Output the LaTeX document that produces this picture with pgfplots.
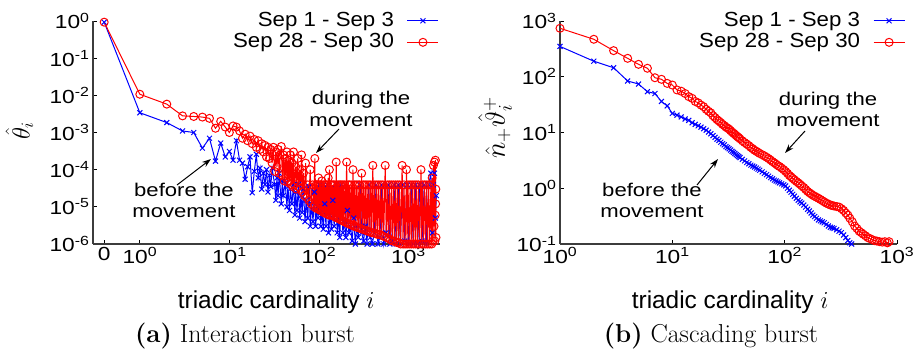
\RequirePackage{fix-cm}
\documentclass[border=0pt]{standalone}
\usepackage{fontspec}
\setsansfont{Liberation Sans}
\newfontfamily\gpt[FakeStretch=1.2]{Liberation Sans}
\newfontfamily\gpl[FakeStretch=1.09]{Liberation Sans}
\usepackage{pgfplots}
\pgfplotsset{compat=1.18}
\usetikzlibrary{arrows.meta}
\newcommand{\E}[1]{10\textsuperscript{#1}}
\definecolor{axgray}{RGB}{60,60,60}
\pgfplotsset{
  every axis/.append style={
    scale only axis,
    axis lines*=left,
    tick pos=left,
    axis line style={-, axgray, line width=1.4bp},
    tick style={black, line width=0.8bp},
    major tick length=4bp,
    tick align=inside,
    xminorticks=false, yminorticks=false,
    tick label style={font=\fontsize{19}{22}\selectfont\gpt},
    clip=false,
    legend cell align=right,
    legend plot pos=right,
  },
  every axis legend/.append style={draw=none, fill=none, font=\fontsize{20.5}{22}\selectfont\gpl,
      anchor=north east, inner sep=0pt, outer sep=0pt,
      nodes={inner sep=1bp, text height=15bp, text depth=4.5bp},
      column sep=12bp, row sep=0pt},
  legend image code/.code={\draw[mark repeat=2,mark phase=2] plot coordinates {(0bp,0bp)(15.5bp,0bp)(31bp,0bp)};},
  every axis x label/.style={font=\fontsize{24.5}{28}\selectfont\sffamily, anchor=base},
  every axis y label/.style={font=\fontsize{25}{28}\selectfont, rotate=90, anchor=center},
}
\tikzset{
  bl/.style={color=blue, line width=1bp, mark=x, mark size=3.5bp, mark options={line width=1bp}},
  rd/.style={color=red, line width=1bp, mark=o, mark size=4bp, mark options={line width=1bp}},
}
\begin{document}
\begin{tikzpicture}
\path[use as bounding box] (0bp,0bp) rectangle (918bp,354bp);
% ---------------- (a) ----------------
\begin{axis}[xmode=log, ymode=log, at={(93bp,110bp)}, anchor=south west,
  width=347bp, height=223bp,
  xmin=0.3, xmax=2250, ymin=1e-6, ymax=1,
  xtick={0.4,1,10,100,1000}, xticklabels={0,\E{0},\E{1},\E{2},\E{3}},
  ytick={1e-6,1e-5,1e-4,1e-3,1e-2,1e-1,1},
  yticklabels={\E{-6},\E{-5},\E{-4},\E{-3},\E{-2},\E{-1},\E{0}},
  xlabel={triadic cardinality $i$},
  xlabel style={at={(axis description cs:0.528,-0.287)}},
  ylabel={$\hat{\theta}_i$},
  ylabel style={at={(axis description cs:-0.212,0.507)}},
  legend style={at={(axis description cs:0.997,1.049)}},
]
\addplot[bl] table {
0.4 0.93
1 3.4e-3
2 1.85e-3
3 1.1e-3
4 1.0e-3
5 3.8e-4
6 7e-4
7 1.7e-4
8 5.2e-4
9 2.2e-4
10 3.1e-4
11 1.8e-4
12 6e-4
13 1.8e-4
14 1.5e-4
15 5.5e-5
16 1.2e-4
17 2.2e-4
18 2.4e-5
19 9e-5
20 2.6e-4
21 6e-5
22 1.1e-4
23 3e-5
24 8e-5
25 4e-5
26 1e-4
27 2.5e-5
28 7e-5
29 3.5e-5
30 1.1e-4
32 4e-5
33 1.5e-5
34 6e-5
35 2e-5
36 8e-5
38 1.2e-5
39 5e-5
40 2e-5
42 4.5e-5
44 1e-5
45 3.5e-5
47 8e-6
48 3e-5
50 1.2e-5
52 4e-5
54 6e-6
55 2.5e-5
57 8e-6
59 4e-5
61 5e-6
63 2e-5
65 7e-6
67 3e-5
70 4e-6
72 1.5e-5
75 5e-6
78 3.5e-5
80 3e-6
83 1.2e-5
86 4e-6
89 2.5e-5
92 3e-6
95 1e-5
98 5e-6
102 3.9e-5
105 3e-6
108 8e-6
112 2.5e-6
116 1.2e-5
120 3e-6
124 3.9e-5
128 2e-6
133 6e-6
138 2.5e-6
143 1.5e-5
148 3e-6
155 4e-5
160 2e-6
165 5e-6
171 1.5e-6
178 3.9e-5
185 2e-6
192 4e-6
200 1.5e-6
208 8e-6
216 2e-6
225 3e-6
235 1.2e-6
245 5e-6
255 1e-6
265 3e-6
275 1.5e-6
290 3.9e-5
300 2e-6
315 1.2e-6
330 3e-6
345 1e-6
360 3.9e-5
375 1.5e-6
395 1e-6
415 2e-6
435 3.9e-5
455 1e-6
480 1.5e-6
505 3.9e-5
530 1e-6
560 2e-6
590 3.9e-5
620 1e-6
650 1.2e-6
690 3.9e-5
730 1e-6
770 3.9e-5
810 1e-6
860 3.9e-5
910 1.2e-6
960 3.9e-5
1010 1e-6
1070 3.9e-5
1130 1e-6
1200 3.9e-5
1270 1e-6
1340 3.9e-5
1420 1.2e-6
1500 3.9e-5
1590 1e-6
1680 3.9e-5
1780 8e-5
1850 2e-6
1900 3.9e-5
1950 8e-5
2000 5e-6
2050 2e-5
};
\addlegendentry{Sep 1 - Sep 3}
\addplot[rd] table {
0.4 0.93
1 1.07e-2
2 5.8e-3
3 2.8e-3
4 2.7e-3
5 2.6e-3
6 2.4e-3
7 1.3e-3
8 2.0e-3
9 1.4e-3
10 1.0e-3
11 1.5e-3
12 1.4e-3
13 1.1e-3
14 7e-4
15 9e-4
16 6e-4
17 8e-4
18 5e-4
19 6.5e-4
20 4e-4
21 6e-4
22 3.5e-4
23 5e-4
24 3e-4
25 4.5e-4
26 2.2e-4
27 4e-4
28 2e-4
29 3.5e-4
30 1.5e-4
31 4e-4
32 9e-5
33 3e-4
34 1.2e-4
35 3.5e-4
36 8e-5
37 2.5e-4
38 4.2e-4
39 7e-5
40 2.5e-4
41 5e-5
42 2e-4
43 6e-5
44 3e-4
45 4.5e-5
46 1.8e-4
47 5e-5
48 2.5e-4
49 4e-5
50 1.5e-4
51 3.5e-5
52 3e-4
53 4e-5
55 1.2e-4
56 3e-5
58 2e-4
59 3.5e-5
61 1e-4
62 3e-5
64 2.5e-4
65 2.5e-5
67 8e-5
69 2e-5
71 1.5e-4
73 1.8e-5
75 3.9e-5
77 1.5e-5
80 1e-4
82 1.2e-5
85 3.9e-5
88 1e-5
90 2e-4
91 1.1e-5
93 3.9e-5
94 9e-6
96 3.9e-5
97 9e-6
99 6e-5
100 8.5e-6
102 3.9e-5
103 8e-6
105 3.9e-5
106 8e-6
108 5e-5
109 7.5e-6
111 3.9e-5
113 7e-6
115 3.9e-5
117 7e-6
119 3.9e-5
121 6.5e-6
123 3.9e-5
125 6.5e-6
127 6e-5
129 6e-6
131 1e-4
133 6e-6
136 3.9e-5
138 6e-6
141 3.9e-5
143 5.8e-6
146 3.9e-5
148 5.5e-6
151 3.9e-5
154 5.2e-6
156 1.6e-4
159 5e-6
162 3.9e-5
165 5e-6
168 3.9e-5
171 4.6e-6
174 3.9e-5
177 4.4e-6
180 3.9e-5
184 4.2e-6
187 3.9e-5
191 4e-6
195 3.9e-5
199 3.8e-6
204 1.6e-4
208 3.6e-6
212 3.9e-5
216 3.5e-6
220 3.9e-5
225 3.3e-6
230 3.9e-5
235 3.2e-6
240 1e-4
245 3e-6
250 3.9e-5
255 3e-6
261 3.9e-5
267 2.8e-6
273 3.9e-5
279 2.7e-6
285 3.9e-5
292 2.6e-6
300 8e-5
307 2.5e-6
314 3.9e-5
321 2.4e-6
329 3.9e-5
337 2.3e-6
345 3.9e-5
353 2.2e-6
362 3.9e-5
371 2.1e-6
380 3.9e-5
390 2e-6
400 1.3e-4
410 2e-6
420 3.9e-5
431 1.9e-6
442 3.9e-5
453 1.8e-6
465 3.9e-5
477 1.8e-6
490 3.9e-5
503 1.7e-6
516 3.9e-5
530 1.6e-6
550 1.3e-4
565 1.5e-6
580 3.9e-5
596 1.4e-6
612 3.9e-5
628 1.3e-6
645 3.9e-5
662 1.2e-6
680 3.9e-5
698 1.2e-6
717 3.9e-5
736 1.1e-6
756 3.9e-5
776 1.1e-6
797 3.9e-5
818 1e-6
850 1.3e-4
870 1e-6
893 3.9e-5
917 1e-6
950 1e-4
965 1e-6
990 3.9e-5
1017 1e-6
1044 3.9e-5
1072 1e-6
1100 3.9e-5
1130 1e-6
1160 3.9e-5
1190 1e-6
1222 3.9e-5
1255 1e-6
1290 3.9e-5
1325 1e-6
1380 1e-4
1400 1e-6
1437 3.9e-5
1475 1e-6
1515 3.9e-5
1556 1e-6
1598 3.9e-5
1640 1e-6
1685 3.9e-5
1730 1e-6
1780 3.9e-5
1820 1e-6
1840 6e-5
1880 1.2e-6
1900 1.3e-4
1930 3e-6
1950 1.6e-4
1970 1.2e-6
1990 6e-6
2000 1.8e-4
2010 1.2e-5
2020 3e-5
2030 1.5e-6
};
\addlegendentry{Sep 28 - Sep 30}
\end{axis}
% ---------------- (b) ----------------
\begin{axis}[xmode=log, ymode=log, at={(560bp,110bp)}, anchor=south west,
  width=337bp, height=223bp,
  xmin=1, xmax=1000, ymin=0.1, ymax=1000,
  xtick={1,10,100,1000}, xticklabels={\E{0},\E{1},\E{2},\E{3}},
  ytick={0.1,1,10,100,1000},
  yticklabels={\E{-1},\E{0},\E{1},\E{2},\E{3}},
  xlabel={triadic cardinality $i$},
  xlabel style={at={(axis description cs:0.505,-0.287)}},
  ylabel={$\hat{n}_+\hat{\vartheta}^+_i$},
  ylabel style={at={(axis description cs:-0.193,0.52)}, font=\fontsize{28}{30}\selectfont},
  legend style={at={(axis description cs:1.024,1.049)}},
]
\addplot[bl] table {
1 350
2 190
3 145
4 84
5 74
6 54
7 50
8 36
9 30
10 22
11 20.5
12 19
13 17.5
14 16.5
15 15
16 14
17 13.2
18 12.5
19 11.7
20 11
21 10.2
22 9.5
23 8.8
24 8.2
25 7.6
26 7.2
27 6.7
28 6.3
29 6
30 5.6
31 5.35
32 5.1
33 4.85
34 4.6
35 4.4
36 4.2
37 4.0
38 3.85
39 3.7
40 3.55
42 3.3
44 3.1
46 2.9
48 2.75
50 2.6
52 2.5
54 2.4
56 2.3
58 2.2
60 2.1
63 1.97
66 1.85
69 1.75
72 1.65
75 1.55
78 1.48
81 1.4
84 1.35
87 1.3
90 1.25
94 1.2
98 1.15
102 1.1
106 1.0
110 0.92
114 0.85
118 0.78
122 0.72
127 0.66
132 0.61
137 0.57
142 0.54
148 0.5
154 0.46
160 0.42
166 0.39
172 0.36
178 0.33
185 0.31
192 0.29
200 0.27
208 0.26
216 0.25
225 0.24
235 0.225
245 0.21
255 0.2
265 0.195
275 0.19
290 0.18
305 0.17
320 0.16
335 0.145
350 0.13
365 0.115
380 0.105
395 0.1
};
\addlegendentry{Sep 1 - Sep 3}
\addplot[rd] table {
1 740
2 470
3 294
4 214
5 167
6 142
7 96
8 90
9 76
10 71
11 58
12 55
13 50
14 44
15 41
16 36
17 34
18 31
19 29
20 26
21 24
22 22.5
23 20
24 18.5
25 17
26 16
27 15
28 14
29 13.3
30 12.5
31 12
32 11.5
33 10.8
34 10.2
35 9.7
36 9.3
37 8.8
38 8.4
39 8.1
40 7.7
42 7.1
44 6.6
46 6.2
48 5.8
50 5.4
52 5.1
54 4.8
56 4.6
58 4.4
60 4.2
63 4.0
66 3.8
69 3.6
72 3.4
75 3.2
78 3.0
81 2.85
84 2.7
87 2.55
90 2.45
94 2.3
98 2.15
102 2.0
106 1.85
110 1.7
114 1.6
118 1.5
122 1.42
127 1.33
132 1.25
137 1.18
142 1.1
148 1.03
154 0.95
160 0.88
166 0.83
172 0.79
178 0.75
185 0.72
192 0.69
200 0.66
208 0.63
216 0.6
225 0.57
235 0.54
245 0.52
255 0.5
265 0.49
275 0.48
290 0.47
305 0.46
320 0.43
335 0.4
350 0.36
365 0.33
380 0.29
400 0.25
420 0.21
440 0.19
460 0.17
480 0.16
500 0.15
525 0.14
550 0.13
575 0.125
600 0.12
630 0.115
660 0.113
700 0.11
740 0.108
780 0.11
820 0.105
850 0.11
};
\addlegendentry{Sep 28 - Sep 30}
\end{axis}
% ---------------- annotations ----------------
\begin{scope}[every node/.style={font=\fontsize{18.5}{22}\selectfont\gpt, anchor=base, inner sep=0pt}]
\node at (361bp,249bp) {during the};
\node at (361bp,227bp) {movement};
\node at (184bp,157bp) {before the};
\node at (184bp,136bp) {movement};
\node at (828bp,248bp) {during the};
\node at (828bp,227bp) {movement};
\node at (652bp,157bp) {before the};
\node at (652bp,136bp) {movement};
\end{scope}
\begin{scope}[line width=1bp, -{Stealth[length=9bp,width=6bp]}]
\draw (339bp,225bp) -- (316bp,201bp);
\draw (177bp,169bp) -- (211bp,195bp);
\draw (805bp,223bp) -- (785bp,201bp);
\draw (697bp,169bp) -- (718bp,195bp);
\end{scope}
\node[anchor=base, font=\fontsize{26}{30}\selectfont] at (245bp,12bp) {\textbf{(a)} Interaction burst};
\node[anchor=base, font=\fontsize{26}{30}\selectfont] at (711bp,12bp) {\textbf{(b)} Cascading burst};
\end{tikzpicture}
\end{document}
